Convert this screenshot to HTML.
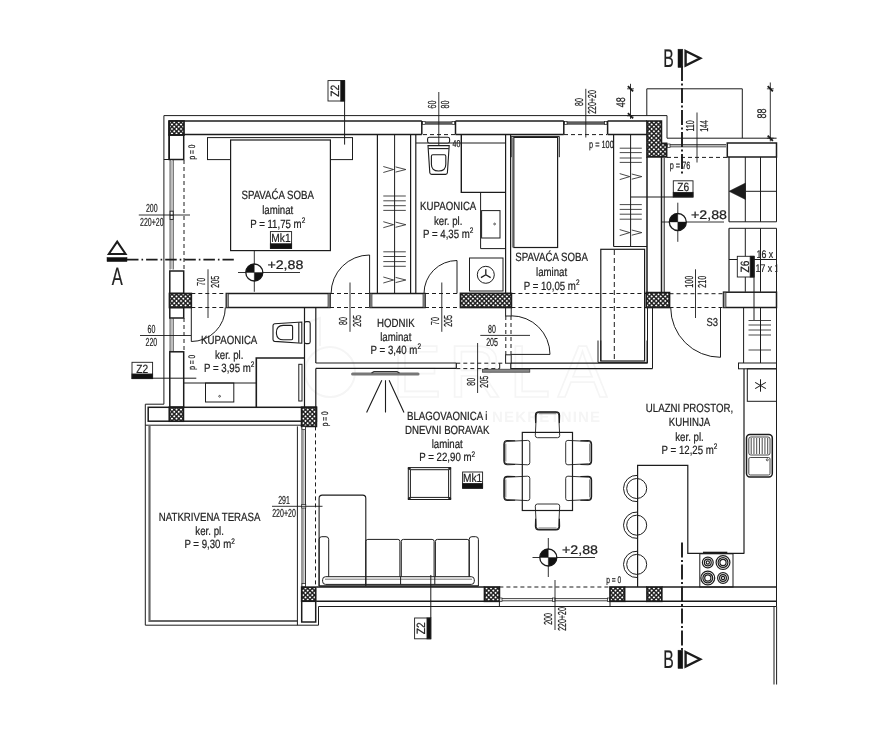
<!DOCTYPE html>
<html><head><meta charset="utf-8"><title>Tlocrt</title>
<style>
html,body{margin:0;padding:0;background:#fff;}
body{width:888px;height:733px;overflow:hidden;font-family:"Liberation Sans",sans-serif;}
svg{display:block;font-family:"Liberation Sans",sans-serif;}
text{text-rendering:geometricPrecision;stroke:#222;stroke-width:0.22px;}
</style></head><body>
<svg width="888" height="733" viewBox="0 0 888 733">
<defs>
<pattern id="h" width="3.2" height="3.2" patternUnits="userSpaceOnUse" patternTransform="rotate(45)">
<rect width="3.2" height="3.2" fill="#161616"/>
<rect x="0.7" y="0.7" width="1.85" height="1.85" fill="#fff"/>
</pattern>
</defs>
<rect width="888" height="733" fill="#fff"/>
<g opacity="0.999">
<g fill="none" stroke="#f4f4f4" stroke-width="2" font-size="74" opacity="0.9">
<text x="392" y="397" fill="none" style="stroke:#f4f4f4;stroke-width:1.6px" textLength="215" lengthAdjust="spacing">ERLA</text>
<circle cx="330" cy="372" r="25"/><path d="M280 332 L320 318 L320 346"/>
</g>
<text x="492" y="422" font-size="15" style="stroke:none" fill="#f5f5f5" font-weight="bold" textLength="108">NEKRETNINE</text>
<path d="M145.3 625.2 V404.2 H163.9 V115.6 H667 V138.2 H776.6" fill="none" stroke="#1c1c1c" stroke-width="1.0" />
<line x1="163.9" y1="159.5" x2="169.2" y2="159.5" stroke="#1c1c1c" stroke-width="1.0" />
<line x1="169" y1="121" x2="421.8" y2="121" stroke="#1c1c1c" stroke-width="1.5" />
<line x1="184" y1="134.5" x2="421.8" y2="134.5" stroke="#1c1c1c" stroke-width="1.5" />
<line x1="455.5" y1="121" x2="563.8" y2="121" stroke="#1c1c1c" stroke-width="1.5" />
<line x1="455.5" y1="134.5" x2="563.8" y2="134.5" stroke="#1c1c1c" stroke-width="1.5" />
<line x1="607.6" y1="121" x2="647" y2="121" stroke="#1c1c1c" stroke-width="1.5" />
<line x1="607.6" y1="134.5" x2="647" y2="134.5" stroke="#1c1c1c" stroke-width="1.5" />
<line x1="421.8" y1="121" x2="421.8" y2="134.5" stroke="#1c1c1c" stroke-width="1.5" />
<line x1="455.5" y1="121" x2="455.5" y2="134.5" stroke="#1c1c1c" stroke-width="1.5" />
<line x1="563.8" y1="121" x2="563.8" y2="134.5" stroke="#1c1c1c" stroke-width="1.5" />
<line x1="607.6" y1="121" x2="607.6" y2="134.5" stroke="#1c1c1c" stroke-width="1.5" />
<rect x="425.4" y="121.3" width="26.4" height="3.5" fill="#5c5c5c" stroke="none" stroke-width="0" rx="0"/>
<rect x="422.6" y="121.6" width="2.6" height="3.0" fill="none" stroke="#1c1c1c" stroke-width="0.7" rx="0"/>
<rect x="452" y="121.6" width="2.7" height="3.0" fill="none" stroke="#1c1c1c" stroke-width="0.7" rx="0"/>
<line x1="423" y1="134.6" x2="455" y2="134.6" stroke="#1c1c1c" stroke-width="1.0" stroke-dasharray="4 3"/>
<rect x="567" y="121.3" width="37.6" height="3.5" fill="#5c5c5c" stroke="none" stroke-width="0" rx="0"/>
<rect x="564.4" y="121.6" width="2.6" height="3.0" fill="none" stroke="#1c1c1c" stroke-width="0.7" rx="0"/>
<rect x="604.6" y="121.6" width="2.4" height="3.0" fill="none" stroke="#1c1c1c" stroke-width="0.7" rx="0"/>
<line x1="564" y1="134.6" x2="607" y2="134.6" stroke="#1c1c1c" stroke-width="1.0" stroke-dasharray="4 3"/>
<rect x="169" y="121" width="15" height="14" fill="url(#h)" stroke="#1c1c1c" stroke-width="1.7" rx="0"/>
<rect x="169.2" y="135" width="14.5" height="24.5" fill="none" stroke="#1c1c1c" stroke-width="1.5" rx="0"/>
<line x1="169.2" y1="121" x2="169.2" y2="160" stroke="#1c1c1c" stroke-width="1.5" />
<line x1="170.1" y1="160" x2="170.1" y2="269.5" stroke="#2a2a2a" stroke-width="0.9" />
<line x1="173.2" y1="160" x2="173.2" y2="269.5" stroke="#2a2a2a" stroke-width="0.9" />
<line x1="171.65" y1="161" x2="171.65" y2="269" stroke="#bdbdbd" stroke-width="1.6" />
<rect x="170.1" y="211.2" width="3.1" height="8.2" fill="#fff" stroke="#1c1c1c" stroke-width="0.9" rx="0"/>
<line x1="170.1" y1="215.3" x2="173.2" y2="215.3" stroke="#1c1c1c" stroke-width="0.8" />
<line x1="184" y1="160" x2="184" y2="271" stroke="#1c1c1c" stroke-width="1.0" stroke-dasharray="4 3"/>
<rect x="169.8" y="271" width="13.9" height="22.5" fill="none" stroke="#1c1c1c" stroke-width="1.5" rx="0"/>
<rect x="169.5" y="293.5" width="21.8" height="14.0" fill="url(#h)" stroke="#1c1c1c" stroke-width="1.7" rx="0"/>
<rect x="169.8" y="307.5" width="13.9" height="10.5" fill="none" stroke="#1c1c1c" stroke-width="1.5" rx="0"/>
<line x1="170.1" y1="318" x2="170.1" y2="351.8" stroke="#2a2a2a" stroke-width="0.9" />
<line x1="173.2" y1="318" x2="173.2" y2="351.8" stroke="#2a2a2a" stroke-width="0.9" />
<line x1="171.65" y1="319" x2="171.65" y2="351" stroke="#bdbdbd" stroke-width="1.6" />
<line x1="184" y1="318" x2="184" y2="352" stroke="#1c1c1c" stroke-width="1.0" stroke-dasharray="4 3"/>
<rect x="169.8" y="351.8" width="13.9" height="55.5" fill="none" stroke="#1c1c1c" stroke-width="1.5" rx="0"/>
<rect x="148.2" y="407.3" width="168.2" height="13.9" fill="none" stroke="#1c1c1c" stroke-width="1.5" rx="0"/>
<rect x="169.3" y="407.3" width="14.1" height="13.9" fill="url(#h)" stroke="#1c1c1c" stroke-width="1.7" rx="0"/>
<rect x="301.6" y="407.3" width="14.8" height="19.1" fill="url(#h)" stroke="#1c1c1c" stroke-width="1.7" rx="0"/>
<line x1="145.3" y1="425.2" x2="301.6" y2="425.2" stroke="#1c1c1c" stroke-width="1.0" />
<path d="M145.3 625.2 H318.5 V606.5" fill="none" stroke="#1c1c1c" stroke-width="1.0" />
<path d="M149.5 426 V621 H297.3" fill="none" stroke="#666" stroke-width="2.2" />
<line x1="297.4" y1="426.4" x2="297.4" y2="625.2" stroke="#1c1c1c" stroke-width="1.0" />
<line x1="302" y1="426.4" x2="302" y2="587" stroke="#333" stroke-width="1.0" />
<line x1="305.5" y1="426.4" x2="305.5" y2="587" stroke="#333" stroke-width="1.0" />
<line x1="303.8" y1="427" x2="303.8" y2="586" stroke="#999" stroke-width="1.2" />
<rect x="302" y="426.6" width="3.5" height="3.0" fill="#fff" stroke="#1c1c1c" stroke-width="0.7" rx="0"/>
<rect x="302" y="583.6" width="3.5" height="3.2" fill="#fff" stroke="#1c1c1c" stroke-width="0.7" rx="0"/>
<rect x="301.7" y="504.5" width="4.1" height="3.5" fill="#fff" stroke="#1c1c1c" stroke-width="0.7" rx="0"/>
<line x1="315.5" y1="426.4" x2="315.5" y2="587" stroke="#1c1c1c" stroke-width="1.0" stroke-dasharray="4 3"/>
<rect x="301.7" y="587.2" width="14.0" height="14.0" fill="url(#h)" stroke="#1c1c1c" stroke-width="1.7" rx="0"/>
<rect x="301.7" y="601.2" width="14.0" height="20.8" fill="none" stroke="#1c1c1c" stroke-width="1.5" rx="0"/>
<line x1="316.3" y1="587" x2="484.5" y2="587" stroke="#1c1c1c" stroke-width="1.5" />
<line x1="316.3" y1="601.3" x2="484.5" y2="601.3" stroke="#1c1c1c" stroke-width="1.5" />
<rect x="484.5" y="587" width="14.9" height="14.3" fill="url(#h)" stroke="#1c1c1c" stroke-width="1.7" rx="0"/>
<line x1="499.4" y1="587" x2="610" y2="587" stroke="#1c1c1c" stroke-width="1.0" stroke-dasharray="4 3"/>
<line x1="501" y1="598.6" x2="609" y2="598.6" stroke="#444" stroke-width="1.0" />
<line x1="501" y1="600.8" x2="609" y2="600.8" stroke="#444" stroke-width="1.0" />
<rect x="499.8" y="598" width="2.2" height="3.3" fill="#fff" stroke="#1c1c1c" stroke-width="0.7" rx="0"/>
<rect x="552.6" y="598" width="2.4" height="3.3" fill="#fff" stroke="#1c1c1c" stroke-width="0.7" rx="0"/>
<rect x="607.6" y="598" width="2.2" height="3.3" fill="#fff" stroke="#1c1c1c" stroke-width="0.7" rx="0"/>
<rect x="610" y="587" width="14.6" height="14.3" fill="url(#h)" stroke="#1c1c1c" stroke-width="1.7" rx="0"/>
<line x1="624.6" y1="587" x2="647" y2="587" stroke="#1c1c1c" stroke-width="1.5" />
<line x1="624.6" y1="601.3" x2="647" y2="601.3" stroke="#1c1c1c" stroke-width="1.5" />
<rect x="647" y="587" width="14.8" height="14.3" fill="url(#h)" stroke="#1c1c1c" stroke-width="1.7" rx="0"/>
<line x1="661.8" y1="587" x2="776.5" y2="587" stroke="#1c1c1c" stroke-width="1.5" />
<line x1="661.8" y1="601.3" x2="776.5" y2="601.3" stroke="#1c1c1c" stroke-width="1.5" />
<line x1="318.5" y1="606.5" x2="776.5" y2="606.5" stroke="#1c1c1c" stroke-width="1.0" />
<line x1="499.4" y1="601.3" x2="499.4" y2="606.4" stroke="#1c1c1c" stroke-width="1.0" />
<line x1="610" y1="601.3" x2="610" y2="606.4" stroke="#1c1c1c" stroke-width="1.0" />
<line x1="774" y1="606.4" x2="774" y2="684.5" stroke="#1c1c1c" stroke-width="1.0" />
<line x1="776.6" y1="606.4" x2="776.6" y2="684.5" stroke="#1c1c1c" stroke-width="1.0" />
<line x1="647" y1="157" x2="647" y2="292.5" stroke="#1c1c1c" stroke-width="1.5" />
<line x1="661.5" y1="157" x2="661.5" y2="292.5" stroke="#1c1c1c" stroke-width="1.5" />
<line x1="664.2" y1="158" x2="664.2" y2="292.5" stroke="#1c1c1c" stroke-width="1.0" />
<path d="M647 121 H661.4 V143.4 H666.6 V156.9 H647 Z" fill="url(#h)" stroke="#1c1c1c" stroke-width="1.7" />
<rect x="646.3" y="292.6" width="23.2" height="14.9" fill="url(#h)" stroke="#1c1c1c" stroke-width="1.7" rx="0"/>
<line x1="647.5" y1="307.5" x2="647.5" y2="363.2" stroke="#1c1c1c" stroke-width="1.0" />
<line x1="652.5" y1="307.5" x2="652.5" y2="368.6" stroke="#1c1c1c" stroke-width="1.0" />
<line x1="670" y1="144.6" x2="726" y2="144.6" stroke="#444" stroke-width="1.0" />
<line x1="670" y1="146.8" x2="726" y2="146.8" stroke="#444" stroke-width="1.0" />
<line x1="670" y1="145.7" x2="726" y2="145.7" stroke="#aaa" stroke-width="1" />
<rect x="667.4" y="144" width="2.6" height="3.4" fill="#fff" stroke="#1c1c1c" stroke-width="0.7" rx="0"/>
<rect x="727.3" y="143" width="49.2" height="14" fill="none" stroke="#1c1c1c" stroke-width="1.5" rx="0"/>
<line x1="667" y1="157.4" x2="727" y2="157.4" stroke="#1c1c1c" stroke-width="1.0" stroke-dasharray="4 3"/>
<line x1="776.5" y1="157" x2="776.5" y2="221.8" stroke="#1c1c1c" stroke-width="1.0" />
<line x1="776.5" y1="228.3" x2="776.5" y2="606.4" stroke="#1c1c1c" stroke-width="1.0" />
<path d="M646.8 115.7 V88.8 H742.3 V138.2" fill="none" stroke="#1c1c1c" stroke-width="1.0" />
<rect x="226.3" y="293.5" width="103.7" height="14.0" fill="none" stroke="#1c1c1c" stroke-width="1.5" rx="0"/>
<rect x="226.3" y="293.5" width="2.0" height="14.0" fill="#999" stroke="#1c1c1c" stroke-width="0.6" rx="0"/>
<rect x="328" y="293.5" width="2" height="14.0" fill="#999" stroke="#1c1c1c" stroke-width="0.6" rx="0"/>
<rect x="370" y="293.5" width="55" height="14.0" fill="none" stroke="#1c1c1c" stroke-width="1.5" rx="0"/>
<rect x="370" y="293.5" width="2" height="14.0" fill="#999" stroke="#1c1c1c" stroke-width="0.6" rx="0"/>
<rect x="423" y="293.5" width="2" height="14.0" fill="#999" stroke="#1c1c1c" stroke-width="0.6" rx="0"/>
<rect x="460.5" y="293.4" width="50.9" height="14.1" fill="url(#h)" stroke="#1c1c1c" stroke-width="1.7" rx="0"/>
<line x1="191.3" y1="293.5" x2="226.3" y2="293.5" stroke="#1c1c1c" stroke-width="1.0" stroke-dasharray="4 3"/>
<line x1="191.3" y1="307.5" x2="226.3" y2="307.5" stroke="#1c1c1c" stroke-width="1.0" stroke-dasharray="4 3"/>
<line x1="330" y1="293.5" x2="370" y2="293.5" stroke="#1c1c1c" stroke-width="1.0" stroke-dasharray="4 3"/>
<line x1="330" y1="307.5" x2="370" y2="307.5" stroke="#1c1c1c" stroke-width="1.0" stroke-dasharray="4 3"/>
<line x1="425" y1="293.5" x2="460.5" y2="293.5" stroke="#1c1c1c" stroke-width="1.0" stroke-dasharray="4 3"/>
<line x1="425" y1="307.5" x2="460.5" y2="307.5" stroke="#1c1c1c" stroke-width="1.0" stroke-dasharray="4 3"/>
<line x1="511.4" y1="293.5" x2="646.3" y2="293.5" stroke="#1c1c1c" stroke-width="1.0" stroke-dasharray="4 3"/>
<line x1="511.4" y1="307.5" x2="646.3" y2="307.5" stroke="#1c1c1c" stroke-width="1.0" stroke-dasharray="4 3"/>
<line x1="669.5" y1="293.7" x2="723.5" y2="293.7" stroke="#1c1c1c" stroke-width="1.0" stroke-dasharray="4 3"/>
<line x1="669.5" y1="307.5" x2="723.5" y2="307.5" stroke="#1c1c1c" stroke-width="1.0" stroke-dasharray="4 3"/>
<line x1="377.4" y1="134.5" x2="377.4" y2="293.5" stroke="#1c1c1c" stroke-width="1.2" />
<line x1="394.6" y1="134.5" x2="394.6" y2="293.5" stroke="#1c1c1c" stroke-width="1.0" />
<line x1="410.6" y1="134.5" x2="410.6" y2="293.5" stroke="#1c1c1c" stroke-width="1.2" />
<line x1="415.8" y1="134.5" x2="415.8" y2="293.5" stroke="#1c1c1c" stroke-width="1.2" />
<line x1="383.3" y1="196" x2="405.8" y2="196" stroke="#1c1c1c" stroke-width="0.8" />
<line x1="383.3" y1="200.8" x2="405.8" y2="200.8" stroke="#1c1c1c" stroke-width="0.8" />
<line x1="383.3" y1="205.7" x2="405.8" y2="205.7" stroke="#1c1c1c" stroke-width="0.8" />
<line x1="383.3" y1="210.4" x2="405.8" y2="210.4" stroke="#1c1c1c" stroke-width="0.8" />
<line x1="383.3" y1="251.8" x2="405.8" y2="251.8" stroke="#1c1c1c" stroke-width="0.8" />
<line x1="383.3" y1="256.5" x2="405.8" y2="256.5" stroke="#1c1c1c" stroke-width="0.8" />
<line x1="383.3" y1="261.6" x2="405.8" y2="261.6" stroke="#1c1c1c" stroke-width="0.8" />
<line x1="383.3" y1="266.3" x2="405.8" y2="266.3" stroke="#1c1c1c" stroke-width="0.8" />
<path d="M383.3 166.5 L393.55 169.5 L383.3 172.5 M395.55 166.9 L405.8 169.5 L395.55 172.1" fill="none" stroke="#1c1c1c" stroke-width="0.8" />
<path d="M383.3 221.7 L393.55 224.7 L383.3 227.7 M395.55 222.1 L405.8 224.7 L395.55 227.29999999999998" fill="none" stroke="#1c1c1c" stroke-width="0.8" />
<path d="M383.3 277 L393.55 280 L383.3 283 M395.55 277.4 L405.8 280 L395.55 282.6" fill="none" stroke="#1c1c1c" stroke-width="0.8" />
<line x1="505.6" y1="134.5" x2="505.6" y2="293.5" stroke="#1c1c1c" stroke-width="1.2" />
<line x1="510.6" y1="134.5" x2="510.6" y2="293.5" stroke="#1c1c1c" stroke-width="1.2" />
<rect x="505.6" y="307.5" width="5.6" height="8.5" fill="none" stroke="#1c1c1c" stroke-width="1.0" rx="0"/>
<rect x="505.6" y="354.8" width="5.6" height="8.4" fill="none" stroke="#1c1c1c" stroke-width="1.0" rx="0"/>
<line x1="505.8" y1="316" x2="505.8" y2="354.8" stroke="#1c1c1c" stroke-width="1.0" stroke-dasharray="4 3"/>
<line x1="511" y1="316" x2="511" y2="354.8" stroke="#1c1c1c" stroke-width="1.0" stroke-dasharray="4 3"/>
<line x1="304.5" y1="307.5" x2="304.5" y2="407.5" stroke="#1c1c1c" stroke-width="1.2" />
<line x1="315.8" y1="307.5" x2="315.8" y2="363" stroke="#1c1c1c" stroke-width="1.2" />
<line x1="315.8" y1="368.4" x2="315.8" y2="407.5" stroke="#1c1c1c" stroke-width="1.2" />
<line x1="315.8" y1="363" x2="456.3" y2="363" stroke="#1c1c1c" stroke-width="1.2" />
<line x1="315.8" y1="368.4" x2="456.3" y2="368.4" stroke="#1c1c1c" stroke-width="1.2" />
<line x1="456.3" y1="363" x2="456.3" y2="368.4" stroke="#1c1c1c" stroke-width="1.2" />
<line x1="456.3" y1="363.2" x2="505.6" y2="363.2" stroke="#1c1c1c" stroke-width="1.0" stroke-dasharray="4 3"/>
<line x1="456.3" y1="368.6" x2="499.7" y2="368.6" stroke="#1c1c1c" stroke-width="1.0" stroke-dasharray="4 3"/>
<line x1="499.7" y1="363.2" x2="499.7" y2="368.6" stroke="#1c1c1c" stroke-width="1.0" />
<path d="M510.8 363.2 H647.5 M510.8 363.2 V368.6 H652.5" fill="none" stroke="#1c1c1c" stroke-width="1.2" />
<rect x="482.4" y="369.2" width="47.4" height="3.0" fill="#8a8a8a" stroke="#333" stroke-width="0.7" rx="0"/>
<path d="M191.3 307.5 V341.5 A34 34 0 0 0 225.3 307.5" fill="none" stroke="#1c1c1c" stroke-width="1" />
<path d="M369.6 293.5 V255 A38.5 38.5 0 0 0 331.1 293.5" fill="none" stroke="#1c1c1c" stroke-width="1" />
<path d="M457 293.5 V260.5 A33 33 0 0 0 424 293.5" fill="none" stroke="#1c1c1c" stroke-width="1" />
<path d="M511.2 354.4 H550 A38.7 38.7 0 0 0 511.3 315.8" fill="none" stroke="#1c1c1c" stroke-width="1" />
<path d="M720.5 307.5 V357.3 A49.8 49.8 0 0 1 670.7 307.5" fill="none" stroke="#1c1c1c" stroke-width="1" />
<rect x="723.5" y="292.2" width="53.0" height="15.3" fill="none" stroke="#1c1c1c" stroke-width="1.5" rx="0"/>
<rect x="723.5" y="292.2" width="2.5" height="15.3" fill="#999" stroke="#1c1c1c" stroke-width="0.6" rx="0"/>
<line x1="743.6" y1="307.5" x2="743.6" y2="363" stroke="#1c1c1c" stroke-width="1.0" />
<line x1="760.5" y1="307.5" x2="760.5" y2="363" stroke="#1c1c1c" stroke-width="1.0" />
<line x1="748.5" y1="320.5" x2="771" y2="320.5" stroke="#1c1c1c" stroke-width="0.8" />
<line x1="748.5" y1="325" x2="771" y2="325" stroke="#1c1c1c" stroke-width="0.8" />
<line x1="748.5" y1="330" x2="771" y2="330" stroke="#1c1c1c" stroke-width="0.8" />
<line x1="748.5" y1="335" x2="771" y2="335" stroke="#1c1c1c" stroke-width="0.8" />
<line x1="748.5" y1="350" x2="771" y2="350" stroke="#1c1c1c" stroke-width="0.8" />
<rect x="738.5" y="363" width="38.0" height="5.8" fill="none" stroke="#1c1c1c" stroke-width="1.0" rx="0"/>
<line x1="744" y1="368.8" x2="744" y2="553.8" stroke="#1c1c1c" stroke-width="1.2" />
<rect x="747.3" y="368.8" width="29.2" height="32.5" fill="none" stroke="#1c1c1c" stroke-width="1.0" rx="0"/>
<line x1="760.5" y1="379.3" x2="760.5" y2="391.7" stroke="#1c1c1c" stroke-width="1" transform="rotate(0 760.5 385.5)"/>
<line x1="760.5" y1="379.3" x2="760.5" y2="391.7" stroke="#1c1c1c" stroke-width="1" transform="rotate(60 760.5 385.5)"/>
<line x1="760.5" y1="379.3" x2="760.5" y2="391.7" stroke="#1c1c1c" stroke-width="1" transform="rotate(120 760.5 385.5)"/>
<path d="M637.6 587 V465.4 H687.8 V553.4 H744" fill="none" stroke="#1c1c1c" stroke-width="1.2" />
<circle cx="636.7" cy="488.5" r="10" fill="none" stroke="#1c1c1c" stroke-width="1"/>
<path d="M637.6 475.33 A13.2 13.2 0 1 0 637.6 501.67" fill="none" stroke="#1c1c1c" stroke-width="1" />
<circle cx="636.7" cy="525.2" r="10" fill="none" stroke="#1c1c1c" stroke-width="1"/>
<path d="M637.6 512.03 A13.2 13.2 0 1 0 637.6 538.37" fill="none" stroke="#1c1c1c" stroke-width="1" />
<circle cx="636.7" cy="564.4" r="10" fill="none" stroke="#1c1c1c" stroke-width="1"/>
<path d="M637.6 551.23 A13.2 13.2 0 1 0 637.6 577.57" fill="none" stroke="#1c1c1c" stroke-width="1" />
<rect x="699.8" y="553.8" width="33.2" height="33.2" fill="none" stroke="#1c1c1c" stroke-width="1.0" rx="0"/>
<line x1="703" y1="552.6" x2="727.3" y2="552.6" stroke="#1c1c1c" stroke-width="1.8" />
<circle cx="707.8" cy="562.5" r="5.4" fill="none" stroke="#1c1c1c" stroke-width="1.2"/>
<circle cx="707.8" cy="562.5" r="3.4" fill="none" stroke="#1c1c1c" stroke-width="1.2"/>
<circle cx="707.8" cy="562.5" r="1.6" fill="none" stroke="#1c1c1c" stroke-width="1.2"/>
<circle cx="723" cy="562.5" r="6.9" fill="none" stroke="#1c1c1c" stroke-width="1.2"/>
<circle cx="723" cy="562.5" r="4.9" fill="none" stroke="#1c1c1c" stroke-width="1.2"/>
<circle cx="723" cy="562.5" r="3.1" fill="none" stroke="#1c1c1c" stroke-width="1.2"/>
<circle cx="707.8" cy="578" r="6.9" fill="none" stroke="#1c1c1c" stroke-width="1.2"/>
<circle cx="707.8" cy="578" r="4.9" fill="none" stroke="#1c1c1c" stroke-width="1.2"/>
<circle cx="707.8" cy="578" r="3.1" fill="none" stroke="#1c1c1c" stroke-width="1.2"/>
<circle cx="723" cy="578" r="5.4" fill="none" stroke="#1c1c1c" stroke-width="1.2"/>
<circle cx="723" cy="578" r="3.4" fill="none" stroke="#1c1c1c" stroke-width="1.2"/>
<circle cx="723" cy="578" r="1.6" fill="none" stroke="#1c1c1c" stroke-width="1.2"/>
<rect x="746.5" y="434.6" width="25.8" height="42.4" fill="none" stroke="#1c1c1c" stroke-width="1.5" rx="3.4"/>
<rect x="748.8" y="437" width="21.2" height="18" fill="none" stroke="#1c1c1c" stroke-width="0.8" rx="2"/>
<line x1="751.2" y1="438" x2="751.2" y2="454" stroke="#1c1c1c" stroke-width="0.8" />
<line x1="753.95" y1="438" x2="753.95" y2="454" stroke="#1c1c1c" stroke-width="0.8" />
<line x1="756.7" y1="438" x2="756.7" y2="454" stroke="#1c1c1c" stroke-width="0.8" />
<line x1="759.45" y1="438" x2="759.45" y2="454" stroke="#1c1c1c" stroke-width="0.8" />
<line x1="762.2" y1="438" x2="762.2" y2="454" stroke="#1c1c1c" stroke-width="0.8" />
<line x1="764.95" y1="438" x2="764.95" y2="454" stroke="#1c1c1c" stroke-width="0.8" />
<line x1="767.7" y1="438" x2="767.7" y2="454" stroke="#1c1c1c" stroke-width="0.8" />
<rect x="748.8" y="457.5" width="21.2" height="17.5" fill="none" stroke="#1c1c1c" stroke-width="0.8" rx="1.5"/>
<circle cx="767.3" cy="459.8" r="1" fill="none" stroke="#1c1c1c" stroke-width="0.7"/>
<line x1="729" y1="157" x2="729" y2="221.8" stroke="#1c1c1c" stroke-width="1.2" />
<line x1="729" y1="228.3" x2="729" y2="291.8" stroke="#1c1c1c" stroke-width="1.2" />
<line x1="745.3" y1="157" x2="745.3" y2="221.8" stroke="#1c1c1c" stroke-width="1.0" />
<line x1="745.3" y1="228.3" x2="745.3" y2="291.8" stroke="#1c1c1c" stroke-width="1.0" />
<line x1="760.5" y1="157" x2="760.5" y2="221.8" stroke="#1c1c1c" stroke-width="1.0" />
<line x1="760.5" y1="228.3" x2="760.5" y2="291.8" stroke="#1c1c1c" stroke-width="1.0" />
<line x1="745.3" y1="191.3" x2="776.5" y2="191.3" stroke="#1c1c1c" stroke-width="1.0" />
<line x1="729" y1="221.8" x2="776.5" y2="221.8" stroke="#1c1c1c" stroke-width="1.0" />
<line x1="729" y1="228.3" x2="776.5" y2="228.3" stroke="#1c1c1c" stroke-width="1.0" />
<line x1="729" y1="259.5" x2="776.5" y2="259.5" stroke="#1c1c1c" stroke-width="1.0" />
<path d="M729 191.3 L745.5 183 V199.5 Z" fill="#1c1c1c" stroke="#1c1c1c" stroke-width="0.5" />
<rect x="207.5" y="137.6" width="145.0" height="22.0" fill="none" stroke="#1c1c1c" stroke-width="1.0" rx="0"/>
<rect x="230.6" y="140" width="99.8" height="110.6" fill="#fff" stroke="#1c1c1c" stroke-width="1.2" rx="0"/>
<path d="M511.2 157.2 V136.4 H559.3 V157.2" fill="none" stroke="#1c1c1c" stroke-width="1.0" />
<rect x="513.8" y="137.4" width="43.8" height="110.1" fill="#fff" stroke="#1c1c1c" stroke-width="1.2" rx="0"/>
<line x1="512.6" y1="137.4" x2="512.6" y2="247.5" stroke="#888" stroke-width="1.4" />
<line x1="613.6" y1="134.5" x2="613.6" y2="246.5" stroke="#1c1c1c" stroke-width="1.2" />
<line x1="630.6" y1="134.5" x2="630.6" y2="246.5" stroke="#1c1c1c" stroke-width="1.0" />
<line x1="613.6" y1="246.5" x2="647" y2="246.5" stroke="#1c1c1c" stroke-width="1.2" />
<line x1="619.7" y1="148.2" x2="641.8" y2="148.2" stroke="#1c1c1c" stroke-width="0.8" />
<line x1="619.7" y1="152.6" x2="641.8" y2="152.6" stroke="#1c1c1c" stroke-width="0.8" />
<line x1="619.7" y1="158" x2="641.8" y2="158" stroke="#1c1c1c" stroke-width="0.8" />
<line x1="619.7" y1="162.4" x2="641.8" y2="162.4" stroke="#1c1c1c" stroke-width="0.8" />
<line x1="619.7" y1="204.6" x2="641.8" y2="204.6" stroke="#1c1c1c" stroke-width="0.8" />
<line x1="619.7" y1="209.4" x2="641.8" y2="209.4" stroke="#1c1c1c" stroke-width="0.8" />
<line x1="619.7" y1="214.2" x2="641.8" y2="214.2" stroke="#1c1c1c" stroke-width="0.8" />
<line x1="619.7" y1="219.2" x2="641.8" y2="219.2" stroke="#1c1c1c" stroke-width="0.8" />
<path d="M619.7 173.6 L629.75 176.6 L619.7 179.6 M631.75 174.0 L641.8 176.6 L631.75 179.2" fill="none" stroke="#1c1c1c" stroke-width="0.8" />
<path d="M619.7 229.6 L629.75 232.6 L619.7 235.6 M631.75 230.0 L641.8 232.6 L631.75 235.2" fill="none" stroke="#1c1c1c" stroke-width="0.8" />
<rect x="600.8" y="249.3" width="43.8" height="111.7" fill="none" stroke="#1c1c1c" stroke-width="1.2" rx="0"/>
<line x1="614.3" y1="250" x2="614.3" y2="361" stroke="#1c1c1c" stroke-width="1.0" stroke-dasharray="5 3"/>
<path d="M598 340.5 V362.4 H647 V340.5" fill="none" stroke="#1c1c1c" stroke-width="1.0" />
<line x1="600.8" y1="340.5" x2="600.8" y2="361" stroke="#1c1c1c" stroke-width="1.0" />
<line x1="416" y1="143" x2="505.6" y2="143" stroke="#1c1c1c" stroke-width="1.0" />
<path d="M461.3 134.5 V192.4 H505.6" fill="none" stroke="#1c1c1c" stroke-width="1.4" />
<line x1="480.6" y1="192.4" x2="480.6" y2="248.6" stroke="#1c1c1c" stroke-width="1.0" />
<line x1="480.6" y1="248.6" x2="505.6" y2="248.6" stroke="#1c1c1c" stroke-width="1.0" />
<rect x="481.6" y="210.6" width="18.4" height="27.4" fill="none" stroke="#1c1c1c" stroke-width="1.0" rx="0"/>
<circle cx="494.6" cy="224" r="0.9" fill="none" stroke="#1c1c1c" stroke-width="0.7"/>
<g transform="translate(438.6,137.2) rotate(0)" fill="#fff" stroke="#1c1c1c" stroke-width="1.1"><rect x="-11" y="0" width="22" height="5.8" rx="1.8"/><path d="M-10.6 8.4 H10.6 L8.8 35.6 Q8.6 37.2 7 37.2 H-7 Q-8.6 37.2 -8.8 35.6 Z"/><path d="M-10.2 11.4 H10.2" fill="none"/><path d="M-7.2 19 Q-7.2 17.6 -5.8 17.6 H5.8 Q7.2 17.6 7.2 19 V27 Q7.2 33.8 0 33.8 Q-7.2 33.8 -7.2 27 Z"/></g>
<rect x="469.5" y="258" width="33.5" height="33" fill="none" stroke="#1c1c1c" stroke-width="1.0" rx="0"/>
<circle cx="485.8" cy="274.8" r="8.5" fill="none" stroke="#1c1c1c" stroke-width="1"/>
<line x1="485.8" y1="274.8" x2="485.8" y2="269.2" stroke="#1c1c1c" stroke-width="1.3" transform="rotate(0 485.8 274.8)"/>
<line x1="485.8" y1="274.8" x2="485.8" y2="269.2" stroke="#1c1c1c" stroke-width="1.3" transform="rotate(120 485.8 274.8)"/>
<line x1="485.8" y1="274.8" x2="485.8" y2="269.2" stroke="#1c1c1c" stroke-width="1.3" transform="rotate(240 485.8 274.8)"/>
<g transform="translate(310.2,332.6) rotate(90)" fill="#fff" stroke="#1c1c1c" stroke-width="1.1"><rect x="-11" y="0" width="22" height="5.8" rx="1.8"/><path d="M-10.6 8.4 H10.6 L8.8 35.6 Q8.6 37.2 7 37.2 H-7 Q-8.6 37.2 -8.8 35.6 Z"/><path d="M-10.2 11.4 H10.2" fill="none"/><path d="M-7.2 19 Q-7.2 17.6 -5.8 17.6 H5.8 Q7.2 17.6 7.2 19 V27 Q7.2 33.8 0 33.8 Q-7.2 33.8 -7.2 27 Z"/></g>
<path d="M256.3 407.3 V358 H304.5" fill="none" stroke="#1c1c1c" stroke-width="1.6" />
<rect x="298.8" y="364.3" width="3.2" height="36.7" fill="none" stroke="#1c1c1c" stroke-width="1.0" rx="0"/>
<line x1="184" y1="383" x2="256.3" y2="383" stroke="#1c1c1c" stroke-width="1.0" />
<rect x="205.5" y="383" width="28.3" height="19" fill="none" stroke="#1c1c1c" stroke-width="1.0" rx="0"/>
<circle cx="219.6" cy="396.3" r="0.9" fill="none" stroke="#1c1c1c" stroke-width="0.7"/>
<line x1="352.6" y1="374" x2="418" y2="374" stroke="#777" stroke-width="3.1" stroke-linecap="round"/>
<path d="M371.5 373 L374 371.6 H397 L399.5 373" fill="none" stroke="#333" stroke-width="1.3" />
<path d="M381.8 380.3 L366.6 412.4 M385.5 380.3 V412.4 M389.1 380.3 L404 412.4" fill="none" stroke="#1c1c1c" stroke-width="1.1" />
<rect x="408.3" y="467.6" width="42.4" height="31.9" fill="none" stroke="#1c1c1c" stroke-width="1" rx="0"/>
<rect x="410.4" y="469.7" width="38.2" height="27.7" fill="none" stroke="#1c1c1c" stroke-width="1" rx="0"/>
<circle cx="409.3" cy="468.6" r="1.4" fill="#222"/>
<circle cx="449.7" cy="468.6" r="1.4" fill="#222"/>
<circle cx="409.3" cy="498.5" r="1.4" fill="#222"/>
<circle cx="449.7" cy="498.5" r="1.4" fill="#222"/>
<path d="M319.1 586 V498.2 Q319.1 495.1 322.2 495.1 H362.7 Q365.8 495.1 365.8 498.2 V586" fill="none" stroke="#1c1c1c" stroke-width="1.1" />
<path d="M319.1 586 H478.4" fill="none" stroke="#1c1c1c" stroke-width="1.3" />
<path d="M319.1 586 V539.4 Q319.1 536.7 321.8 536.7 H326 Q328.7 536.7 328.7 539.4 V576.7" fill="none" stroke="#1c1c1c" stroke-width="1" />
<path d="M478.4 586 V539.4 Q478.4 536.7 475.7 536.7 H471.9 Q469.2 536.7 469.2 539.4 V576.7" fill="none" stroke="#1c1c1c" stroke-width="1" />
<path d="M365.8 576.7 V541.4 Q365.8 539.4 367.8 539.4 H397.9 Q399.9 539.4 399.9 541.4 V576.7" fill="none" stroke="#1c1c1c" stroke-width="1" />
<path d="M401.3 576.7 V541.4 Q401.3 539.4 403.3 539.4 H432.1 Q434.1 539.4 434.1 541.4 V576.7" fill="none" stroke="#1c1c1c" stroke-width="1" />
<path d="M435.4 576.7 V541.4 Q435.4 539.4 437.4 539.4 H467.2 Q469.2 539.4 469.2 541.4 V576.7" fill="none" stroke="#1c1c1c" stroke-width="1" />
<rect x="322.6" y="576.7" width="151.7" height="7.7" fill="none" stroke="#1c1c1c" stroke-width="1" rx="3"/>
<line x1="325" y1="579.2" x2="472" y2="579.2" stroke="#1c1c1c" stroke-width="0.6" />
<line x1="365.8" y1="576.7" x2="365.8" y2="584.4" stroke="#1c1c1c" stroke-width="1" />
<line x1="400.6" y1="576.7" x2="400.6" y2="584.4" stroke="#1c1c1c" stroke-width="1" />
<line x1="434.8" y1="576.7" x2="434.8" y2="584.4" stroke="#1c1c1c" stroke-width="1" />
<g transform="translate(547.5,425) rotate(0)" fill="none" stroke="#1c1c1c" stroke-width="0.9"><path d="M-11.2 -10 Q-11.2 -12.7 -8.5 -12.7 H8.5 Q11.2 -12.7 11.2 -10 L12.2 10.5 Q12.2 12.7 10 12.7 H-10 Q-12.2 12.7 -12.2 10.5 Z"/><path d="M-11.9 -2.4 L-12.1 -9.6 Q-12.1 -13.2 -8.4 -13.2 H8.4 Q12.1 -13.2 12.1 -9.6 L11.9 -2.4" stroke-width="1.15" stroke-linecap="round"/><path d="M-9 -11.3 H9" stroke-width="0.6"/></g>
<g transform="translate(547.5,516.7) rotate(180)" fill="none" stroke="#1c1c1c" stroke-width="0.9"><path d="M-11.2 -10 Q-11.2 -12.7 -8.5 -12.7 H8.5 Q11.2 -12.7 11.2 -10 L12.2 10.5 Q12.2 12.7 10 12.7 H-10 Q-12.2 12.7 -12.2 10.5 Z"/><path d="M-11.9 -2.4 L-12.1 -9.6 Q-12.1 -13.2 -8.4 -13.2 H8.4 Q12.1 -13.2 12.1 -9.6 L11.9 -2.4" stroke-width="1.15" stroke-linecap="round"/><path d="M-9 -11.3 H9" stroke-width="0.6"/></g>
<g transform="translate(517.1,452.6) rotate(-90)" fill="none" stroke="#1c1c1c" stroke-width="0.9"><path d="M-11.2 -10 Q-11.2 -12.7 -8.5 -12.7 H8.5 Q11.2 -12.7 11.2 -10 L12.2 10.5 Q12.2 12.7 10 12.7 H-10 Q-12.2 12.7 -12.2 10.5 Z"/><path d="M-11.9 -2.4 L-12.1 -9.6 Q-12.1 -13.2 -8.4 -13.2 H8.4 Q12.1 -13.2 12.1 -9.6 L11.9 -2.4" stroke-width="1.15" stroke-linecap="round"/><path d="M-9 -11.3 H9" stroke-width="0.6"/></g>
<g transform="translate(517.1,488.4) rotate(-90)" fill="none" stroke="#1c1c1c" stroke-width="0.9"><path d="M-11.2 -10 Q-11.2 -12.7 -8.5 -12.7 H8.5 Q11.2 -12.7 11.2 -10 L12.2 10.5 Q12.2 12.7 10 12.7 H-10 Q-12.2 12.7 -12.2 10.5 Z"/><path d="M-11.9 -2.4 L-12.1 -9.6 Q-12.1 -13.2 -8.4 -13.2 H8.4 Q12.1 -13.2 12.1 -9.6 L11.9 -2.4" stroke-width="1.15" stroke-linecap="round"/><path d="M-9 -11.3 H9" stroke-width="0.6"/></g>
<g transform="translate(578.4,452.6) rotate(90)" fill="none" stroke="#1c1c1c" stroke-width="0.9"><path d="M-11.2 -10 Q-11.2 -12.7 -8.5 -12.7 H8.5 Q11.2 -12.7 11.2 -10 L12.2 10.5 Q12.2 12.7 10 12.7 H-10 Q-12.2 12.7 -12.2 10.5 Z"/><path d="M-11.9 -2.4 L-12.1 -9.6 Q-12.1 -13.2 -8.4 -13.2 H8.4 Q12.1 -13.2 12.1 -9.6 L11.9 -2.4" stroke-width="1.15" stroke-linecap="round"/><path d="M-9 -11.3 H9" stroke-width="0.6"/></g>
<g transform="translate(578.4,488.4) rotate(90)" fill="none" stroke="#1c1c1c" stroke-width="0.9"><path d="M-11.2 -10 Q-11.2 -12.7 -8.5 -12.7 H8.5 Q11.2 -12.7 11.2 -10 L12.2 10.5 Q12.2 12.7 10 12.7 H-10 Q-12.2 12.7 -12.2 10.5 Z"/><path d="M-11.9 -2.4 L-12.1 -9.6 Q-12.1 -13.2 -8.4 -13.2 H8.4 Q12.1 -13.2 12.1 -9.6 L11.9 -2.4" stroke-width="1.15" stroke-linecap="round"/><path d="M-9 -11.3 H9" stroke-width="0.6"/></g>
<rect x="522.3" y="432.4" width="50.2" height="78.1" fill="none" stroke="#1c1c1c" stroke-width="1.2" rx="0"/>
<text transform="translate(277.7,198.6) scale(0.805,1)" font-size="12" text-anchor="middle" fill="#222" >SPAVAĆA SOBA</text>
<text transform="translate(277.7,213.5) scale(0.805,1)" font-size="12" text-anchor="middle" fill="#222" >laminat</text>
<text transform="translate(277.7,227.7) scale(0.805,1)" font-size="12" text-anchor="middle" fill="#222" >P = 11,75 m<tspan dy="-4.6" font-size="8">2</tspan></text>
<text transform="translate(448.2,210.2) scale(0.805,1)" font-size="12" text-anchor="middle" fill="#222" >KUPAONICA</text>
<text transform="translate(448.2,224.6) scale(0.805,1)" font-size="12" text-anchor="middle" fill="#222" >ker. pl.</text>
<text transform="translate(448.2,237.8) scale(0.805,1)" font-size="12" text-anchor="middle" fill="#222" >P = 4,35 m<tspan dy="-4.6" font-size="8">2</tspan></text>
<text transform="translate(551.6,261.4) scale(0.805,1)" font-size="12" text-anchor="middle" fill="#222" >SPAVAĆA SOBA</text>
<text transform="translate(551.6,276.4) scale(0.805,1)" font-size="12" text-anchor="middle" fill="#222" >laminat</text>
<text transform="translate(551.6,290) scale(0.805,1)" font-size="12" text-anchor="middle" fill="#222" >P = 10,05 m<tspan dy="-4.6" font-size="8">2</tspan></text>
<text transform="translate(229.2,343.8) scale(0.805,1)" font-size="12" text-anchor="middle" fill="#222" >KUPAONICA</text>
<text transform="translate(229.2,358.5) scale(0.805,1)" font-size="12" text-anchor="middle" fill="#222" >ker. pl.</text>
<text transform="translate(229.2,371.7) scale(0.805,1)" font-size="12" text-anchor="middle" fill="#222" >P = 3,95 m<tspan dy="-4.6" font-size="8">2</tspan></text>
<text transform="translate(395.8,327) scale(0.805,1)" font-size="12" text-anchor="middle" fill="#222" >HODNIK</text>
<text transform="translate(395.8,340.6) scale(0.805,1)" font-size="12" text-anchor="middle" fill="#222" >laminat</text>
<text transform="translate(395.8,354) scale(0.805,1)" font-size="12" text-anchor="middle" fill="#222" >P = 3,40 m<tspan dy="-4.6" font-size="8">2</tspan></text>
<text transform="translate(447.2,420.2) scale(0.805,1)" font-size="12" text-anchor="middle" fill="#222" >BLAGOVAONICA i</text>
<text transform="translate(447.2,434) scale(0.805,1)" font-size="12" text-anchor="middle" fill="#222" >DNEVNI BORAVAK</text>
<text transform="translate(447.2,448.2) scale(0.805,1)" font-size="12" text-anchor="middle" fill="#222" >laminat</text>
<text transform="translate(447.2,461.4) scale(0.805,1)" font-size="12" text-anchor="middle" fill="#222" >P = 22,90 m<tspan dy="-4.6" font-size="8">2</tspan></text>
<text transform="translate(209.6,521) scale(0.805,1)" font-size="12" text-anchor="middle" fill="#222" >NATKRIVENA TERASA</text>
<text transform="translate(209.6,535.2) scale(0.805,1)" font-size="12" text-anchor="middle" fill="#222" >ker. pl.</text>
<text transform="translate(209.6,548.2) scale(0.805,1)" font-size="12" text-anchor="middle" fill="#222" >P = 9,30 m<tspan dy="-4.6" font-size="8">2</tspan></text>
<text transform="translate(689.5,412) scale(0.805,1)" font-size="12" text-anchor="middle" fill="#222" >ULAZNI PROSTOR,</text>
<text transform="translate(689.5,425.8) scale(0.805,1)" font-size="12" text-anchor="middle" fill="#222" >KUHINJA</text>
<text transform="translate(689.5,441) scale(0.805,1)" font-size="12" text-anchor="middle" fill="#222" >ker. pl.</text>
<text transform="translate(689.5,454) scale(0.805,1)" font-size="12" text-anchor="middle" fill="#222" >P = 12,25 m<tspan dy="-4.6" font-size="8">2</tspan></text>
<rect x="270.4" y="231.6" width="21.2" height="16.8" fill="#fff" stroke="#1c1c1c" stroke-width="0.9" rx="0"/>
<rect x="270.4" y="243.8" width="21.2" height="4.6" fill="#111" stroke="#1c1c1c" stroke-width="0.9" rx="0"/>
<text transform="translate(281.0,242.4) scale(0.85,1)" font-size="12" text-anchor="middle" fill="#222" >Mk1</text>
<rect x="462.6" y="472" width="20.0" height="16.2" fill="#fff" stroke="#1c1c1c" stroke-width="0.9" rx="0"/>
<rect x="462.6" y="483.59999999999997" width="20.0" height="4.6" fill="#111" stroke="#1c1c1c" stroke-width="0.9" rx="0"/>
<text transform="translate(472.6,482.2) scale(0.85,1)" font-size="12" text-anchor="middle" fill="#222" >Mk1</text>
<rect x="132" y="362.3" width="20.6" height="16.3" fill="#fff" stroke="#1c1c1c" stroke-width="0.9" rx="0"/>
<rect x="132" y="374.0" width="20.6" height="4.6" fill="#111" stroke="#1c1c1c" stroke-width="0.9" rx="0"/>
<text transform="translate(142.3,372.6) scale(0.85,1)" font-size="12" text-anchor="middle" fill="#222" >Z2</text>
<rect x="673.3" y="180.8" width="19.7" height="16.2" fill="#fff" stroke="#1c1c1c" stroke-width="0.9" rx="0"/>
<rect x="673.3" y="192.4" width="19.7" height="4.6" fill="#111" stroke="#1c1c1c" stroke-width="0.9" rx="0"/>
<text transform="translate(683.15,191) scale(0.85,1)" font-size="12" text-anchor="middle" fill="#222" >Z6</text>
<line x1="152.6" y1="378.2" x2="196.3" y2="378.2" stroke="#1c1c1c" stroke-width="1.0" />
<line x1="630.8" y1="197" x2="673.3" y2="197" stroke="#1c1c1c" stroke-width="1.0" />
<rect x="328" y="80.6" width="16.6" height="20.4" fill="#fff" stroke="#1c1c1c" stroke-width="0.9" rx="0"/>
<rect x="340.8" y="80.6" width="3.8" height="20.4" fill="#111" stroke="#1c1c1c" stroke-width="0.9" rx="0"/>
<text transform="translate(339.20000000000005,90.8) rotate(-90) scale(0.85,1)" font-size="12" text-anchor="middle" fill="#222" >Z2</text>
<line x1="344.6" y1="80.6" x2="344.6" y2="144.6" stroke="#1c1c1c" stroke-width="1.0" />
<rect x="414.6" y="618" width="16.2" height="20.8" fill="#fff" stroke="#1c1c1c" stroke-width="0.9" rx="0"/>
<rect x="427.0" y="618" width="3.8" height="20.8" fill="#111" stroke="#1c1c1c" stroke-width="0.9" rx="0"/>
<text transform="translate(425.40000000000003,628.4) rotate(-90) scale(0.85,1)" font-size="12" text-anchor="middle" fill="#222" >Z2</text>
<line x1="430.8" y1="575" x2="430.8" y2="618" stroke="#1c1c1c" stroke-width="1.0" />
<rect x="737.3" y="256.3" width="16.7" height="20.7" fill="#fff" stroke="#1c1c1c" stroke-width="0.9" rx="0"/>
<rect x="750.2" y="256.3" width="3.8" height="20.7" fill="#111" stroke="#1c1c1c" stroke-width="0.9" rx="0"/>
<text transform="translate(748.6,266.65) rotate(-90) scale(0.85,1)" font-size="12" text-anchor="middle" fill="#222" >Z6</text>
<line x1="754" y1="256.3" x2="754" y2="320" stroke="#1c1c1c" stroke-width="1.0" />
<text transform="translate(756.6,258.2) scale(0.8,1)" font-size="11" text-anchor="start" fill="#222" >16 x</text>
<text transform="translate(755.5,272) scale(0.8,1)" font-size="11" text-anchor="start" fill="#222" >17 x 1</text>
<rect x="777.4" y="246" width="22.6" height="30" fill="#fff" stroke="none" stroke-width="0" rx="0"/>
<text transform="translate(706.4,326.4) scale(0.82,1)" font-size="11.5" text-anchor="start" fill="#222" >S3</text>
<line x1="238" y1="272.5" x2="300" y2="272.5" stroke="#1c1c1c" stroke-width="0.9" />
<line x1="254.3" y1="251" x2="254.3" y2="291.8" stroke="#1c1c1c" stroke-width="0.9" />
<circle cx="254.3" cy="272.5" r="8.5" fill="#fff" stroke="#1c1c1c" stroke-width="1.3"/>
<path d="M254.3 272.5 V264.0 A8.5 8.5 0 0 0 245.8 272.5 Z M254.3 272.5 V281.0 A8.5 8.5 0 0 0 262.8 272.5 Z" fill="#111" stroke="#1c1c1c" stroke-width="0.4" />
<text x="267.4" y="268.6" font-size="12.4" fill="#222" textLength="36" lengthAdjust="spacingAndGlyphs">+2,88</text>
<line x1="661.8" y1="222" x2="724" y2="222" stroke="#1c1c1c" stroke-width="0.9" />
<line x1="677.8" y1="202.7" x2="677.8" y2="241.8" stroke="#1c1c1c" stroke-width="0.9" />
<circle cx="677.8" cy="222" r="8.5" fill="#fff" stroke="#1c1c1c" stroke-width="1.3"/>
<path d="M677.8 222 V213.5 A8.5 8.5 0 0 0 669.3 222 Z M677.8 222 V230.5 A8.5 8.5 0 0 0 686.3 222 Z" fill="#111" stroke="#1c1c1c" stroke-width="0.4" />
<text x="691" y="218.6" font-size="12.4" fill="#222" textLength="36" lengthAdjust="spacingAndGlyphs">+2,88</text>
<line x1="532.5" y1="557.5" x2="595" y2="557.5" stroke="#1c1c1c" stroke-width="0.9" />
<line x1="548.3" y1="538" x2="548.3" y2="577" stroke="#1c1c1c" stroke-width="0.9" />
<circle cx="548.3" cy="557.5" r="8.5" fill="#fff" stroke="#1c1c1c" stroke-width="1.3"/>
<path d="M548.3 557.5 V549.0 A8.5 8.5 0 0 0 539.8 557.5 Z M548.3 557.5 V566.0 A8.5 8.5 0 0 0 556.8 557.5 Z" fill="#111" stroke="#1c1c1c" stroke-width="0.4" />
<text x="562" y="553.8" font-size="12.4" fill="#222" textLength="36" lengthAdjust="spacingAndGlyphs">+2,88</text>
<path d="M117.2 241.6 L125.6 254 H108.8 Z" fill="none" stroke="#1c1c1c" stroke-width="2" />
<rect x="107" y="257.5" width="20" height="4.1" fill="#111" stroke="#1c1c1c" stroke-width="0.5" rx="0"/>
<text transform="translate(117.2,284.6) scale(0.66,1)" font-size="25" text-anchor="middle" fill="#222" >A</text>
<line x1="127" y1="259.6" x2="233.8" y2="259.6" stroke="#1c1c1c" stroke-width="1.9" stroke-dasharray="11.5 3 1.6 3"/>
<text transform="translate(668.4,66.5) scale(0.62,1)" font-size="25.5" text-anchor="middle" fill="#222" >B</text>
<rect x="678" y="49.2" width="4.8" height="18.3" fill="#111" stroke="#1c1c1c" stroke-width="0.5" rx="0"/>
<path d="M685.6 51 L700.2 58.3 L685.6 65.6 Z" fill="none" stroke="#1c1c1c" stroke-width="2.4" />
<line x1="682" y1="66" x2="682" y2="176" stroke="#1c1c1c" stroke-width="1.9" stroke-dasharray="15 2.6 1.8 2.6"/>
<text transform="translate(668.4,667.5) scale(0.62,1)" font-size="25.5" text-anchor="middle" fill="#222" >B</text>
<rect x="678" y="650.2" width="4.8" height="18.3" fill="#111" stroke="#1c1c1c" stroke-width="0.5" rx="0"/>
<path d="M685.6 652 L700.2 659.3 L685.6 666.6 Z" fill="none" stroke="#1c1c1c" stroke-width="2.4" />
<line x1="682" y1="542.5" x2="682" y2="650" stroke="#1c1c1c" stroke-width="1.9" stroke-dasharray="15 2.6 1.8 2.6"/>
<line x1="138.8" y1="215" x2="190" y2="215" stroke="#1c1c1c" stroke-width="0.9" />
<text transform="translate(151.8,212.3) scale(0.606,1)" font-size="11.6" text-anchor="middle" fill="#222" >200</text>
<text transform="translate(151.8,225.6) scale(0.606,1)" font-size="11.6" text-anchor="middle" fill="#222" >220+20</text>
<line x1="140" y1="335.5" x2="191" y2="335.5" stroke="#1c1c1c" stroke-width="0.9" />
<text transform="translate(151.4,332.8) scale(0.606,1)" font-size="11.6" text-anchor="middle" fill="#222" >60</text>
<text transform="translate(151.4,346.1) scale(0.606,1)" font-size="11.6" text-anchor="middle" fill="#222" >220</text>
<line x1="272" y1="506.3" x2="322.5" y2="506.3" stroke="#1c1c1c" stroke-width="0.9" />
<text transform="translate(284,503.6) scale(0.606,1)" font-size="11.6" text-anchor="middle" fill="#222" >291</text>
<text transform="translate(284,516.9) scale(0.606,1)" font-size="11.6" text-anchor="middle" fill="#222" >220+20</text>
<line x1="480.3" y1="335.4" x2="530" y2="335.4" stroke="#1c1c1c" stroke-width="0.9" />
<text transform="translate(492,332.7) scale(0.606,1)" font-size="11.6" text-anchor="middle" fill="#222" >80</text>
<text transform="translate(492,346.0) scale(0.606,1)" font-size="11.6" text-anchor="middle" fill="#222" >205</text>
<line x1="208" y1="269.3" x2="208" y2="318" stroke="#1c1c1c" stroke-width="0.9" />
<text transform="translate(205.3,281.8) rotate(-90) scale(0.606,1)" font-size="11.6" text-anchor="middle" fill="#222" >70</text>
<text transform="translate(218.6,281.8) rotate(-90) scale(0.606,1)" font-size="11.6" text-anchor="middle" fill="#222" >205</text>
<line x1="350" y1="282.5" x2="350" y2="331.8" stroke="#1c1c1c" stroke-width="0.9" />
<text transform="translate(347.3,321) rotate(-90) scale(0.606,1)" font-size="11.6" text-anchor="middle" fill="#222" >80</text>
<text transform="translate(360.6,321) rotate(-90) scale(0.606,1)" font-size="11.6" text-anchor="middle" fill="#222" >205</text>
<line x1="441.8" y1="282.5" x2="441.8" y2="331.8" stroke="#1c1c1c" stroke-width="0.9" />
<text transform="translate(439.1,321) rotate(-90) scale(0.606,1)" font-size="11.6" text-anchor="middle" fill="#222" >70</text>
<text transform="translate(452.40000000000003,321) rotate(-90) scale(0.606,1)" font-size="11.6" text-anchor="middle" fill="#222" >205</text>
<line x1="477.6" y1="343" x2="477.6" y2="393" stroke="#1c1c1c" stroke-width="0.9" />
<text transform="translate(474.90000000000003,381.8) rotate(-90) scale(0.606,1)" font-size="11.6" text-anchor="middle" fill="#222" >80</text>
<text transform="translate(488.20000000000005,381.8) rotate(-90) scale(0.606,1)" font-size="11.6" text-anchor="middle" fill="#222" >205</text>
<line x1="438.8" y1="92" x2="438.8" y2="145" stroke="#1c1c1c" stroke-width="0.9" />
<text transform="translate(436.1,104.5) rotate(-90) scale(0.606,1)" font-size="11.6" text-anchor="middle" fill="#222" >60</text>
<text transform="translate(449.40000000000003,104.5) rotate(-90) scale(0.606,1)" font-size="11.6" text-anchor="middle" fill="#222" >80</text>
<line x1="585.8" y1="88.8" x2="585.8" y2="137.5" stroke="#1c1c1c" stroke-width="0.9" />
<text transform="translate(583.0999999999999,102) rotate(-90) scale(0.606,1)" font-size="11.6" text-anchor="middle" fill="#222" >80</text>
<text transform="translate(596.4,102) rotate(-90) scale(0.606,1)" font-size="11.6" text-anchor="middle" fill="#222" >220+20</text>
<line x1="697" y1="112.5" x2="697" y2="162.5" stroke="#1c1c1c" stroke-width="0.9" />
<text transform="translate(694.3,126) rotate(-90) scale(0.606,1)" font-size="11.6" text-anchor="middle" fill="#222" >110</text>
<text transform="translate(707.6,126) rotate(-90) scale(0.606,1)" font-size="11.6" text-anchor="middle" fill="#222" >144</text>
<line x1="695.5" y1="269.3" x2="695.5" y2="318" stroke="#1c1c1c" stroke-width="0.9" />
<text transform="translate(692.8,281.8) rotate(-90) scale(0.606,1)" font-size="11.6" text-anchor="middle" fill="#222" >100</text>
<text transform="translate(706.1,281.8) rotate(-90) scale(0.606,1)" font-size="11.6" text-anchor="middle" fill="#222" >210</text>
<line x1="555" y1="580" x2="555" y2="630" stroke="#1c1c1c" stroke-width="0.9" />
<text transform="translate(552.3,619) rotate(-90) scale(0.606,1)" font-size="11.6" text-anchor="middle" fill="#222" >200</text>
<text transform="translate(565.6,619) rotate(-90) scale(0.606,1)" font-size="11.6" text-anchor="middle" fill="#222" >220+20</text>
<line x1="630.5" y1="83.8" x2="630.5" y2="118.8" stroke="#1c1c1c" stroke-width="0.9" />
<line x1="627.9" y1="86.2" x2="633.1" y2="91.39999999999999" stroke="#1c1c1c" stroke-width="1.8" />
<line x1="627.1" y1="88.8" x2="633.9" y2="88.8" stroke="#1c1c1c" stroke-width="0.8" />
<line x1="627.9" y1="113.2" x2="633.1" y2="118.39999999999999" stroke="#1c1c1c" stroke-width="1.8" />
<line x1="627.1" y1="115.8" x2="633.9" y2="115.8" stroke="#1c1c1c" stroke-width="0.8" />
<text transform="translate(624.6,102.3) rotate(-90) scale(0.72,1)" font-size="12.5" text-anchor="middle" fill="#222" >48</text>
<line x1="770.3" y1="82.5" x2="770.3" y2="141.3" stroke="#1c1c1c" stroke-width="0.9" />
<line x1="767.6999999999999" y1="86.2" x2="772.9" y2="91.39999999999999" stroke="#1c1c1c" stroke-width="1.8" />
<line x1="766.9" y1="88.8" x2="773.6999999999999" y2="88.8" stroke="#1c1c1c" stroke-width="0.8" />
<line x1="767.6999999999999" y1="135.6" x2="772.9" y2="140.79999999999998" stroke="#1c1c1c" stroke-width="1.8" />
<line x1="766.9" y1="138.2" x2="773.6999999999999" y2="138.2" stroke="#1c1c1c" stroke-width="0.8" />
<text transform="translate(766,113.5) rotate(-90) scale(0.72,1)" font-size="12.5" text-anchor="middle" fill="#222" >88</text>
<text transform="translate(195.4,152) rotate(-90) scale(0.7,1)" font-size="9.5" text-anchor="middle" fill="#222" >p = 0</text>
<text transform="translate(195.4,362.2) rotate(-90) scale(0.7,1)" font-size="9.5" text-anchor="middle" fill="#222" >p = 0</text>
<text transform="translate(328.4,418.8) rotate(-90) scale(0.7,1)" font-size="9.5" text-anchor="middle" fill="#222" >p = 0</text>
<text transform="translate(601.4,148) scale(0.7,1)" font-size="10.5" text-anchor="middle" fill="#222" >p = 100</text>
<text transform="translate(680,169.2) scale(0.7,1)" font-size="10.5" text-anchor="middle" fill="#222" >p = 76</text>
<text transform="translate(613.8,583.4) scale(0.7,1)" font-size="9.5" text-anchor="middle" fill="#222" >p = 0</text>
<text transform="translate(456.4,146.6) scale(0.7,1)" font-size="10" text-anchor="middle" fill="#222" >40</text>
</g>
</svg>
</body></html>
